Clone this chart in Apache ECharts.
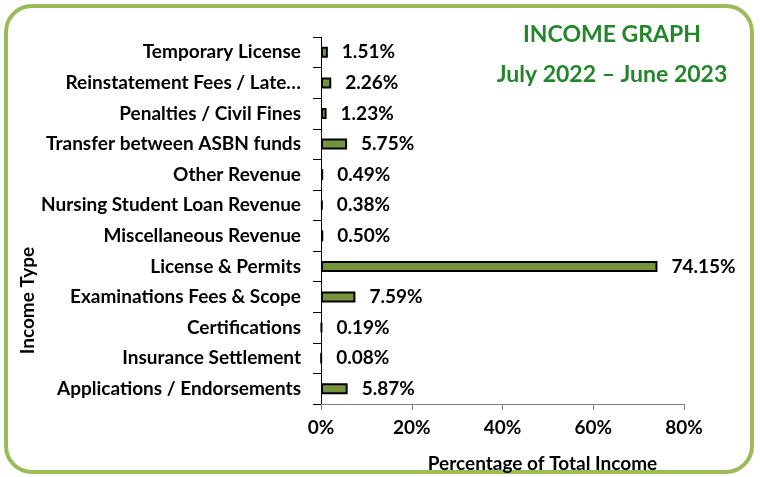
<!DOCTYPE html>
<html>
<head>
<meta charset="utf-8">
<script src="https://cdn.jsdelivr.net/npm/echarts@6/dist/echarts.min.js"></script>
<style>
  html, body { margin: 0; padding: 0; background: #fff; }
  #chart { width: 760px; height: 477px; }
</style>
</head>
<body>
<div id="chart"></div>
<script>
// income categories, top to bottom as shown
const categories = [
  'Temporary License',
  'Reinstatement Fees / Late…',
  'Penalties / Civil Fines',
  'Transfer between ASBN funds',
  'Other Revenue',
  'Nursing Student Loan Revenue',
  'Miscellaneous Revenue',
  'License & Permits',
  'Examinations Fees & Scope',
  'Certifications',
  'Insurance Settlement',
  'Applications / Endorsements'
]
const percentages = [1.51, 2.26, 1.23, 5.75, 0.49, 0.38, 0.50, 74.15, 7.59, 0.19, 0.08, 5.87]
const titleLines = ['INCOME GRAPH', 'July 2022 – June 2023']

const font = 'Lato, "Open Sans", sans-serif'
const chart = echarts.init(document.getElementById('chart'))

// shared title style
const titleStyle = (text, y) => ({
  type: 'text',
  style: {
    text, x: 612, y, align: 'center', verticalAlign: 'middle',
    font: 'bold 23px ' + font, fill: '#23862A',
    shadowColor: 'rgba(0,0,0,0.3)', shadowBlur: 2, shadowOffsetX: 1, shadowOffsetY: 1
  }
})

chart.setOption({
  animation: false,
  textStyle: { fontFamily: font },
  graphic: [
    {
      type: 'rect',
      shape: { x: 6, y: 6, width: 746, height: 466, r: 26 },
      style: { fill: 'none', stroke: '#9BBB59', lineWidth: 4 },
      z: -1
    },
    titleStyle(titleLines[0], 35),
    titleStyle(titleLines[1], 75)
  ],
  grid: { left: 321, right: 76, top: 37, bottom: 73, containLabel: false, outerBoundsMode: 'none' },
  xAxis: {
    type: 'value',
    min: 0,
    max: 80,
    interval: 20,
    name: 'Percentage of Total Income',
    nameLocation: 'middle',
    nameGap: 50,
    nameTextStyle: { fontFamily: font, fontWeight: 'bold', fontSize: 19, color: '#000', padding: [0, 0, 0, 80] },
    axisLine: { show: true, lineStyle: { color: '#7f7f7f', width: 1 } },
    axisTick: { show: true, length: 6, lineStyle: { color: '#7f7f7f' } },
    axisLabel: { formatter: '{value}%', fontFamily: font, fontWeight: 'bold', fontSize: 19, color: '#000', margin: 14 },
    splitLine: { show: false }
  },
  yAxis: {
    type: 'category',
    data: categories,
    inverse: true,
    name: 'Income Type',
    nameLocation: 'middle',
    nameGap: 280,
    nameRotate: 90,
    nameTextStyle: { fontFamily: font, fontWeight: 'bold', fontSize: 19, color: '#000', padding: [0, 0, 0, -160] },
    axisLine: { show: true, lineStyle: { color: '#000', width: 1 } },
    axisTick: { show: true, length: 8, lineStyle: { color: '#000' } },
    axisLabel: { fontFamily: font, fontWeight: 'bold', fontSize: 19, color: '#000', margin: 20 }
  },
  series: [{
    type: 'bar',
    data: percentages,
    barWidth: 11,
    itemStyle: { color: '#77933C', borderColor: '#000', borderWidth: 2 },
    label: {
      show: true,
      position: 'right',
      distance: 14,
      formatter: p => p.value.toFixed(2) + '%',
      fontFamily: font,
      fontWeight: 'bold',
      fontSize: 19,
      color: '#000'
    }
  }]
})
</script>
</body>
</html>
